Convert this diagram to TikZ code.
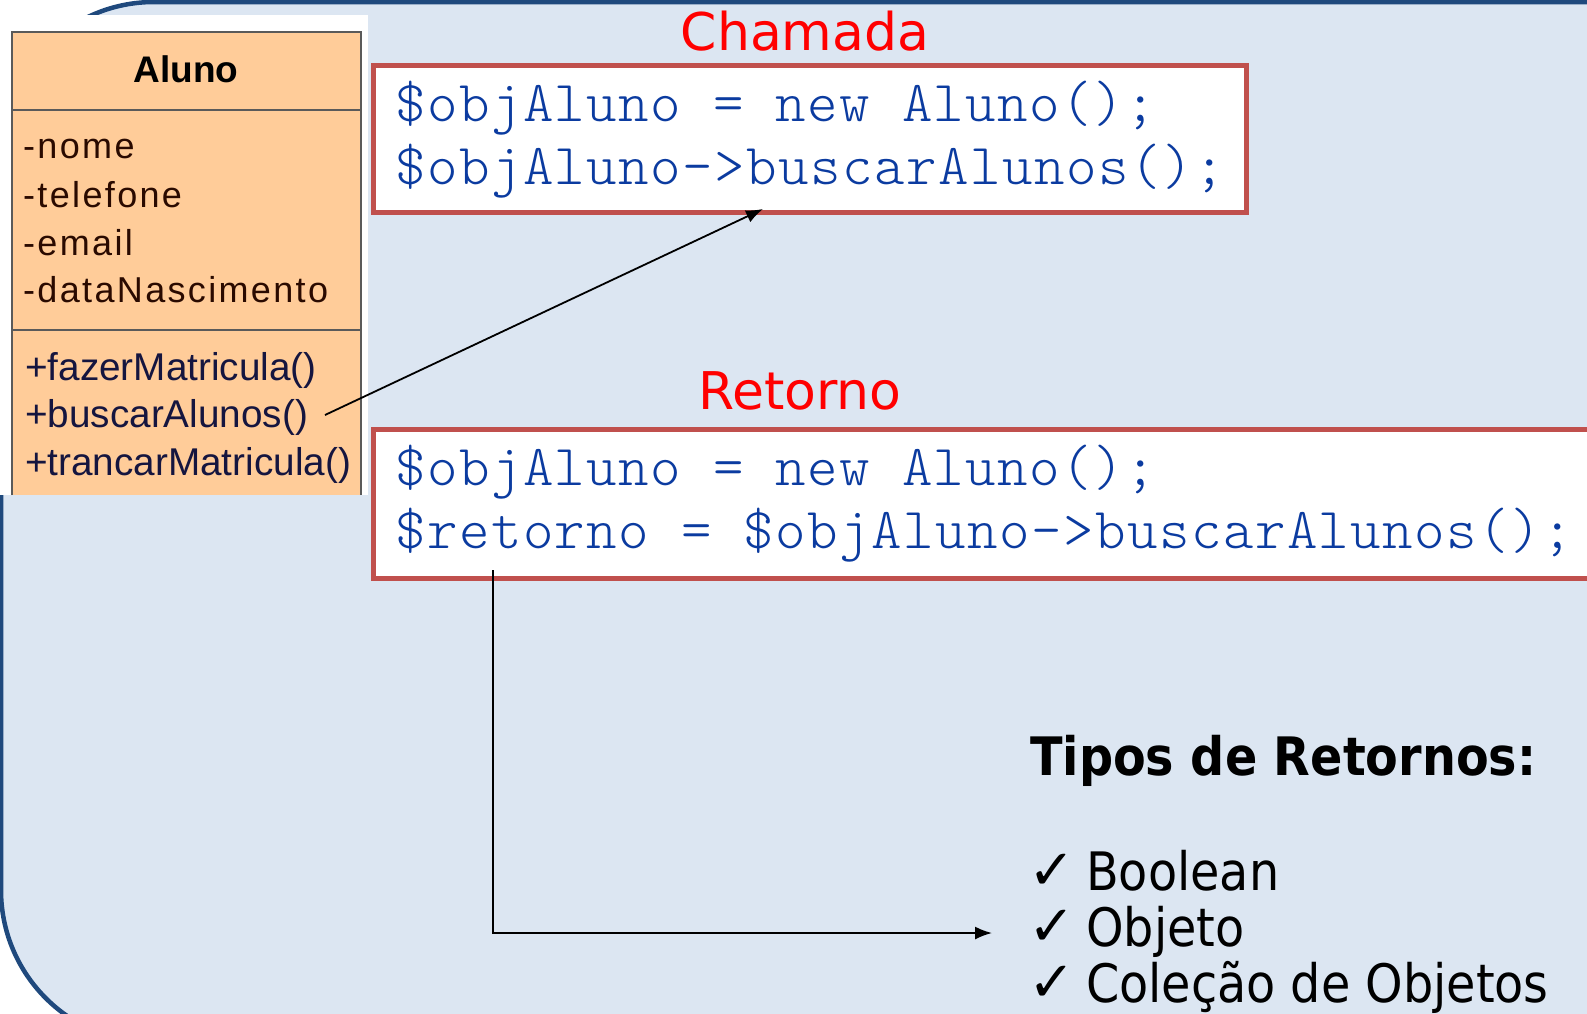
\documentclass[tikz,border=0pt]{standalone}
\usepackage{fontspec}
\usetikzlibrary{arrows.meta}
\newfontfamily\arialf{Liberation Sans}
\newfontfamily\dvs{DejaVu Sans}
\newfontfamily\dvsc{DejaVu Sans Condensed}
\newfontfamily\dvscb{DejaVu Sans Condensed Bold}
\newfontfamily\codefont[LetterSpace=2.6]{lmmonolt10-regular.otf}
\definecolor{bgfill}{HTML}{DCE6F2}
\definecolor{bgline}{HTML}{1F497D}
\definecolor{umlfill}{HTML}{FFCC99}
\definecolor{umlline}{HTML}{5A5A5A}
\definecolor{attrcol}{HTML}{2A0A00}
\definecolor{methcol}{HTML}{15153F}
\definecolor{codered}{HTML}{C0504D}
\definecolor{codeblue}{HTML}{0B3BA0}
\begin{document}
\begin{tikzpicture}[x=1pt,y=-1pt,
  umledge/.style={draw=umlline, line width=2.5},
  titletext/.style={anchor=base, inner sep=0, font=\arialf\bfseries\fontsize{37}{40}\selectfont},
  attr/.style={anchor=base west, inner sep=0, text=attrcol, font=\arialf\addfontfeatures{LetterSpace=6.5}\fontsize{36}{40}\selectfont},
  meth/.style={anchor=base west, inner sep=0, text=methcol, font=\arialf\fontsize{38.7}{42}\selectfont},
  codebox/.style={draw=codered, line width=5, fill=white, anchor=north west, inner sep=0},
  codetext/.style={anchor=base west, inner sep=0, text=codeblue, font=\codefont\fontsize{58}{60}\selectfont},
  lbl/.style={anchor=base, inner sep=0, text=red, font=\dvs\fontsize{52}{60}\selectfont},
  heading/.style={anchor=base west, inner sep=0, font=\dvscb\fontsize{53}{60}\selectfont},
  chk/.style={anchor=base west, inner sep=0, font=\dvs\fontsize{56}{60}\selectfont},
  item/.style={anchor=base west, inner sep=0, font=\dvsc\fontsize{53}{60}\selectfont},
  conn/.style={draw=black, line width=1.8, -{Latex[length=17pt,width=13pt]}}
]
\useasboundingbox (0,0) rectangle (1587,1013);
\clip (0,0) rectangle (1587,1013);
% background panel
\filldraw[fill=bgfill, draw=bgline, line width=4.5, rounded corners=153pt]
  (2200,1043) -- (1,1043) -- (1,2) -- (2200,2) -- cycle;
% UML class
\fill[white] (0,15) rectangle (368,495);
\fill[umlfill] (12,32) rectangle (361,495);
\draw[umledge] (12,495) -- (12,32) -- (361,32) -- (361,495);
\draw[umledge] (12,110) -- (361,110);
\draw[umledge] (12,330) -- (361,330);
\node[titletext] (title) at (186,82) {Aluno};
\node[attr] (at1) at (23,158) {-nome};
\node[attr] (at2) at (23,207) {-telefone};
\node[attr] (at3) at (23,255) {-email};
\node[attr] (at4) at (23,302) {-dataNascimento};
\node[meth] (m1) at (25,380) {+fazerMatricula()};
\node[meth] (m2) at (25,427) {+buscarAlunos()};
\node[meth] (m3) at (25,475) {+trancarMatricula()};
% code boxes
\node[codebox, minimum width=873, minimum height=147] (box1) at (371,63) {};
\node[codetext] (c1a) at (395,121) {\$objAluno = new Aluno();};
\node[codetext] (c1b) at (395,184) {\$objAluno->buscarAlunos();};
\node[codebox, minimum width=1300, minimum height=149] (box2) at (371,427) {};
\node[codetext] (c2a) at (395,485) {\$objAluno = new Aluno();};
\node[codetext] (c2b) at (395,548) {\$retorno = \$objAluno->buscarAlunos();};
% labels
\node[lbl] (chamada) at (805,50) {Chamada};
\node[lbl] (retorno) at (800,409) {Retorno};
% return types
\node[heading] (tipos) at (1030,775) {Tipos de Retornos:};
\node[chk] (k1) at (1028,889) {✓};
\node[item] (i1) at (1086,890) {Boolean};
\node[chk] (k2) at (1028,945) {✓};
\node[item] (i2) at (1086,946) {Objeto};
\node[chk] (k3) at (1028,1001) {✓};
\node[item] (i3) at (1086,1002) {Coleção de Objetos};
% connectors
\coordinate (p1) at (325,415);
\coordinate (p2) at (763,209);
\draw[conn] (p1) -- (p2);
\coordinate (q1) at (493,570);
\coordinate (q2) at (992,933);
\draw[conn] (q1) |- (q2);
\end{tikzpicture}
\end{document}
